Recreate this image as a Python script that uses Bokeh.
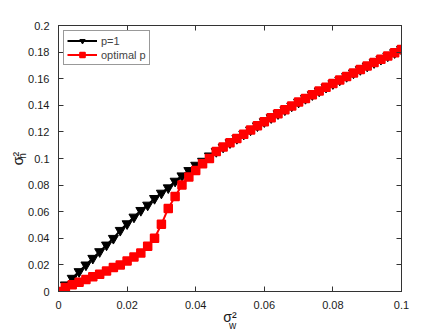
from bokeh.plotting import figure
from bokeh.models import (Range1d, LinearAxis, SingleIntervalTicker, FixedTicker,
                          Legend, LegendItem, CustomJSTickFormatter)
from bokeh.embed import file_html
from bokeh.resources import INLINE

# ---- data ----
sigma_w2 = [0.000, 0.002, 0.004, 0.006, 0.008, 0.010, 0.012, 0.014, 0.016, 0.018,
            0.020, 0.022, 0.024, 0.026, 0.028, 0.030, 0.032, 0.034, 0.036, 0.038,
            0.040, 0.042, 0.044, 0.046, 0.048, 0.050, 0.052, 0.054, 0.056, 0.058,
            0.060, 0.062, 0.064, 0.066, 0.068, 0.070, 0.072, 0.074, 0.076, 0.078,
            0.080, 0.082, 0.084, 0.086, 0.088, 0.090, 0.092, 0.094, 0.096, 0.098,
            0.100]

p1_vals = [0.000, 0.005, 0.010, 0.015, 0.020, 0.025, 0.030, 0.035, 0.040, 0.046,
           0.051, 0.056, 0.061, 0.065, 0.070, 0.074, 0.078, 0.083, 0.087, 0.091,
           0.095, 0.098, 0.102, 0.1053, 0.1086, 0.1119, 0.1151, 0.1183, 0.1215, 0.1246,
           0.1277, 0.1307, 0.1337, 0.1366, 0.1395, 0.1424, 0.1452, 0.1480, 0.1508, 0.1536,
           0.1563, 0.1590, 0.1617, 0.1643, 0.1669, 0.1695, 0.1721, 0.1746, 0.1771, 0.1796,
           0.1820]

opt_vals = [0.000, 0.003, 0.005, 0.007, 0.009, 0.011, 0.013, 0.0155, 0.018, 0.020,
            0.023, 0.026, 0.029, 0.034, 0.040, 0.0505, 0.0625, 0.0715, 0.080, 0.086,
            0.091, 0.096, 0.100, 0.1053, 0.1086, 0.1119, 0.1151, 0.1183, 0.1215, 0.1246,
            0.1277, 0.1307, 0.1337, 0.1366, 0.1395, 0.1424, 0.1452, 0.1480, 0.1508, 0.1536,
            0.1563, 0.1590, 0.1617, 0.1643, 0.1669, 0.1695, 0.1721, 0.1746, 0.1771, 0.1796,
            0.1820]

series_labels = ["p=1", "optimal p"]

FONT = "Liberation Sans"
DARK = "#1a1a1a"

p = figure(width=443, height=333, output_backend="svg", toolbar_location=None,
           x_range=Range1d(0, 0.1), y_range=Range1d(0, 0.2),
           min_border_left=58, min_border_right=42, min_border_top=25,
           min_border_bottom=41)
p.background_fill_color = "white"
p.border_fill_color = "white"
p.outline_line_color = "#333333"
p.xgrid.visible = False
p.ygrid.visible = False

for ax in (p.xaxis[0], p.yaxis[0]):
    ax.ticker = SingleIntervalTicker(interval=0.02)
    ax.major_tick_in = 5
    ax.major_tick_out = 0
    ax.minor_tick_line_color = None
    ax.axis_line_color = "#333333"
    ax.major_tick_line_color = "#333333"
    ax.major_label_text_font = FONT
    ax.major_label_text_font_size = "11px"
    ax.major_label_text_color = DARK
    ax.major_label_standoff = 5
    ax.axis_label_text_font = FONT
    ax.axis_label_text_font_style = "normal"
    ax.axis_label_text_color = DARK
    ax.axis_label_text_font_size = "14px"

# main axis labels: sigma with superscript 2
p.xaxis[0].axis_label = "σ²"
p.xaxis[0].axis_label_standoff = -3
p.yaxis[0].axis_label = "σ²"
p.yaxis[0].axis_label_standoff = -1

# subscripts via extra label-only axes
def label_axis(text, standoff):
    return LinearAxis(ticker=FixedTicker(ticks=[]), axis_line_color=None,
                      major_tick_line_color=None, minor_tick_line_color=None,
                      major_tick_in=0, major_tick_out=0, major_label_standoff=0,
                      axis_label=text, axis_label_standoff=standoff,
                      axis_label_text_font=FONT, axis_label_text_font_style="normal",
                      axis_label_text_font_size="10px", axis_label_text_color=DARK)

p.add_layout(label_axis("\u2002w", -8), "below")
p.add_layout(label_axis("\u2002h", -20), "left")

# box ticks on top and right
for loc in ("above", "right"):
    ax = LinearAxis(ticker=SingleIntervalTicker(interval=0.02),
                    major_tick_in=5, major_tick_out=0,
                    minor_tick_line_color=None, axis_line_color="#333333",
                    major_tick_line_color="#333333",
                    formatter=CustomJSTickFormatter(code="return ''"),
                    major_label_standoff=0)
    p.add_layout(ax, loc)

l1 = p.line(sigma_w2, p1_vals, line_color="black", line_width=2)
s1 = p.scatter(sigma_w2, p1_vals, marker="inverted_triangle", size=10,
               fill_color="black", line_color="black", line_width=1)
l2 = p.line(sigma_w2, opt_vals, line_color="red", line_width=2)
s2 = p.scatter(sigma_w2, opt_vals, marker="square", size=8,
               fill_color="red", line_color="red", line_width=1.5)

legend = Legend(items=[LegendItem(label=series_labels[0], renderers=[l1, s1]),
                       LegendItem(label=series_labels[1], renderers=[l2, s2])],
                location="top_left", margin=5, padding=3, spacing=1,
                glyph_width=30, glyph_height=13, label_height=13,
                label_standoff=4, label_text_font=FONT,
                label_text_font_size="11px",
                border_line_color="#333333", border_line_width=1,
                background_fill_alpha=1)
p.add_layout(legend, "center")

open("out.html", "w").write(file_html(p, INLINE))
